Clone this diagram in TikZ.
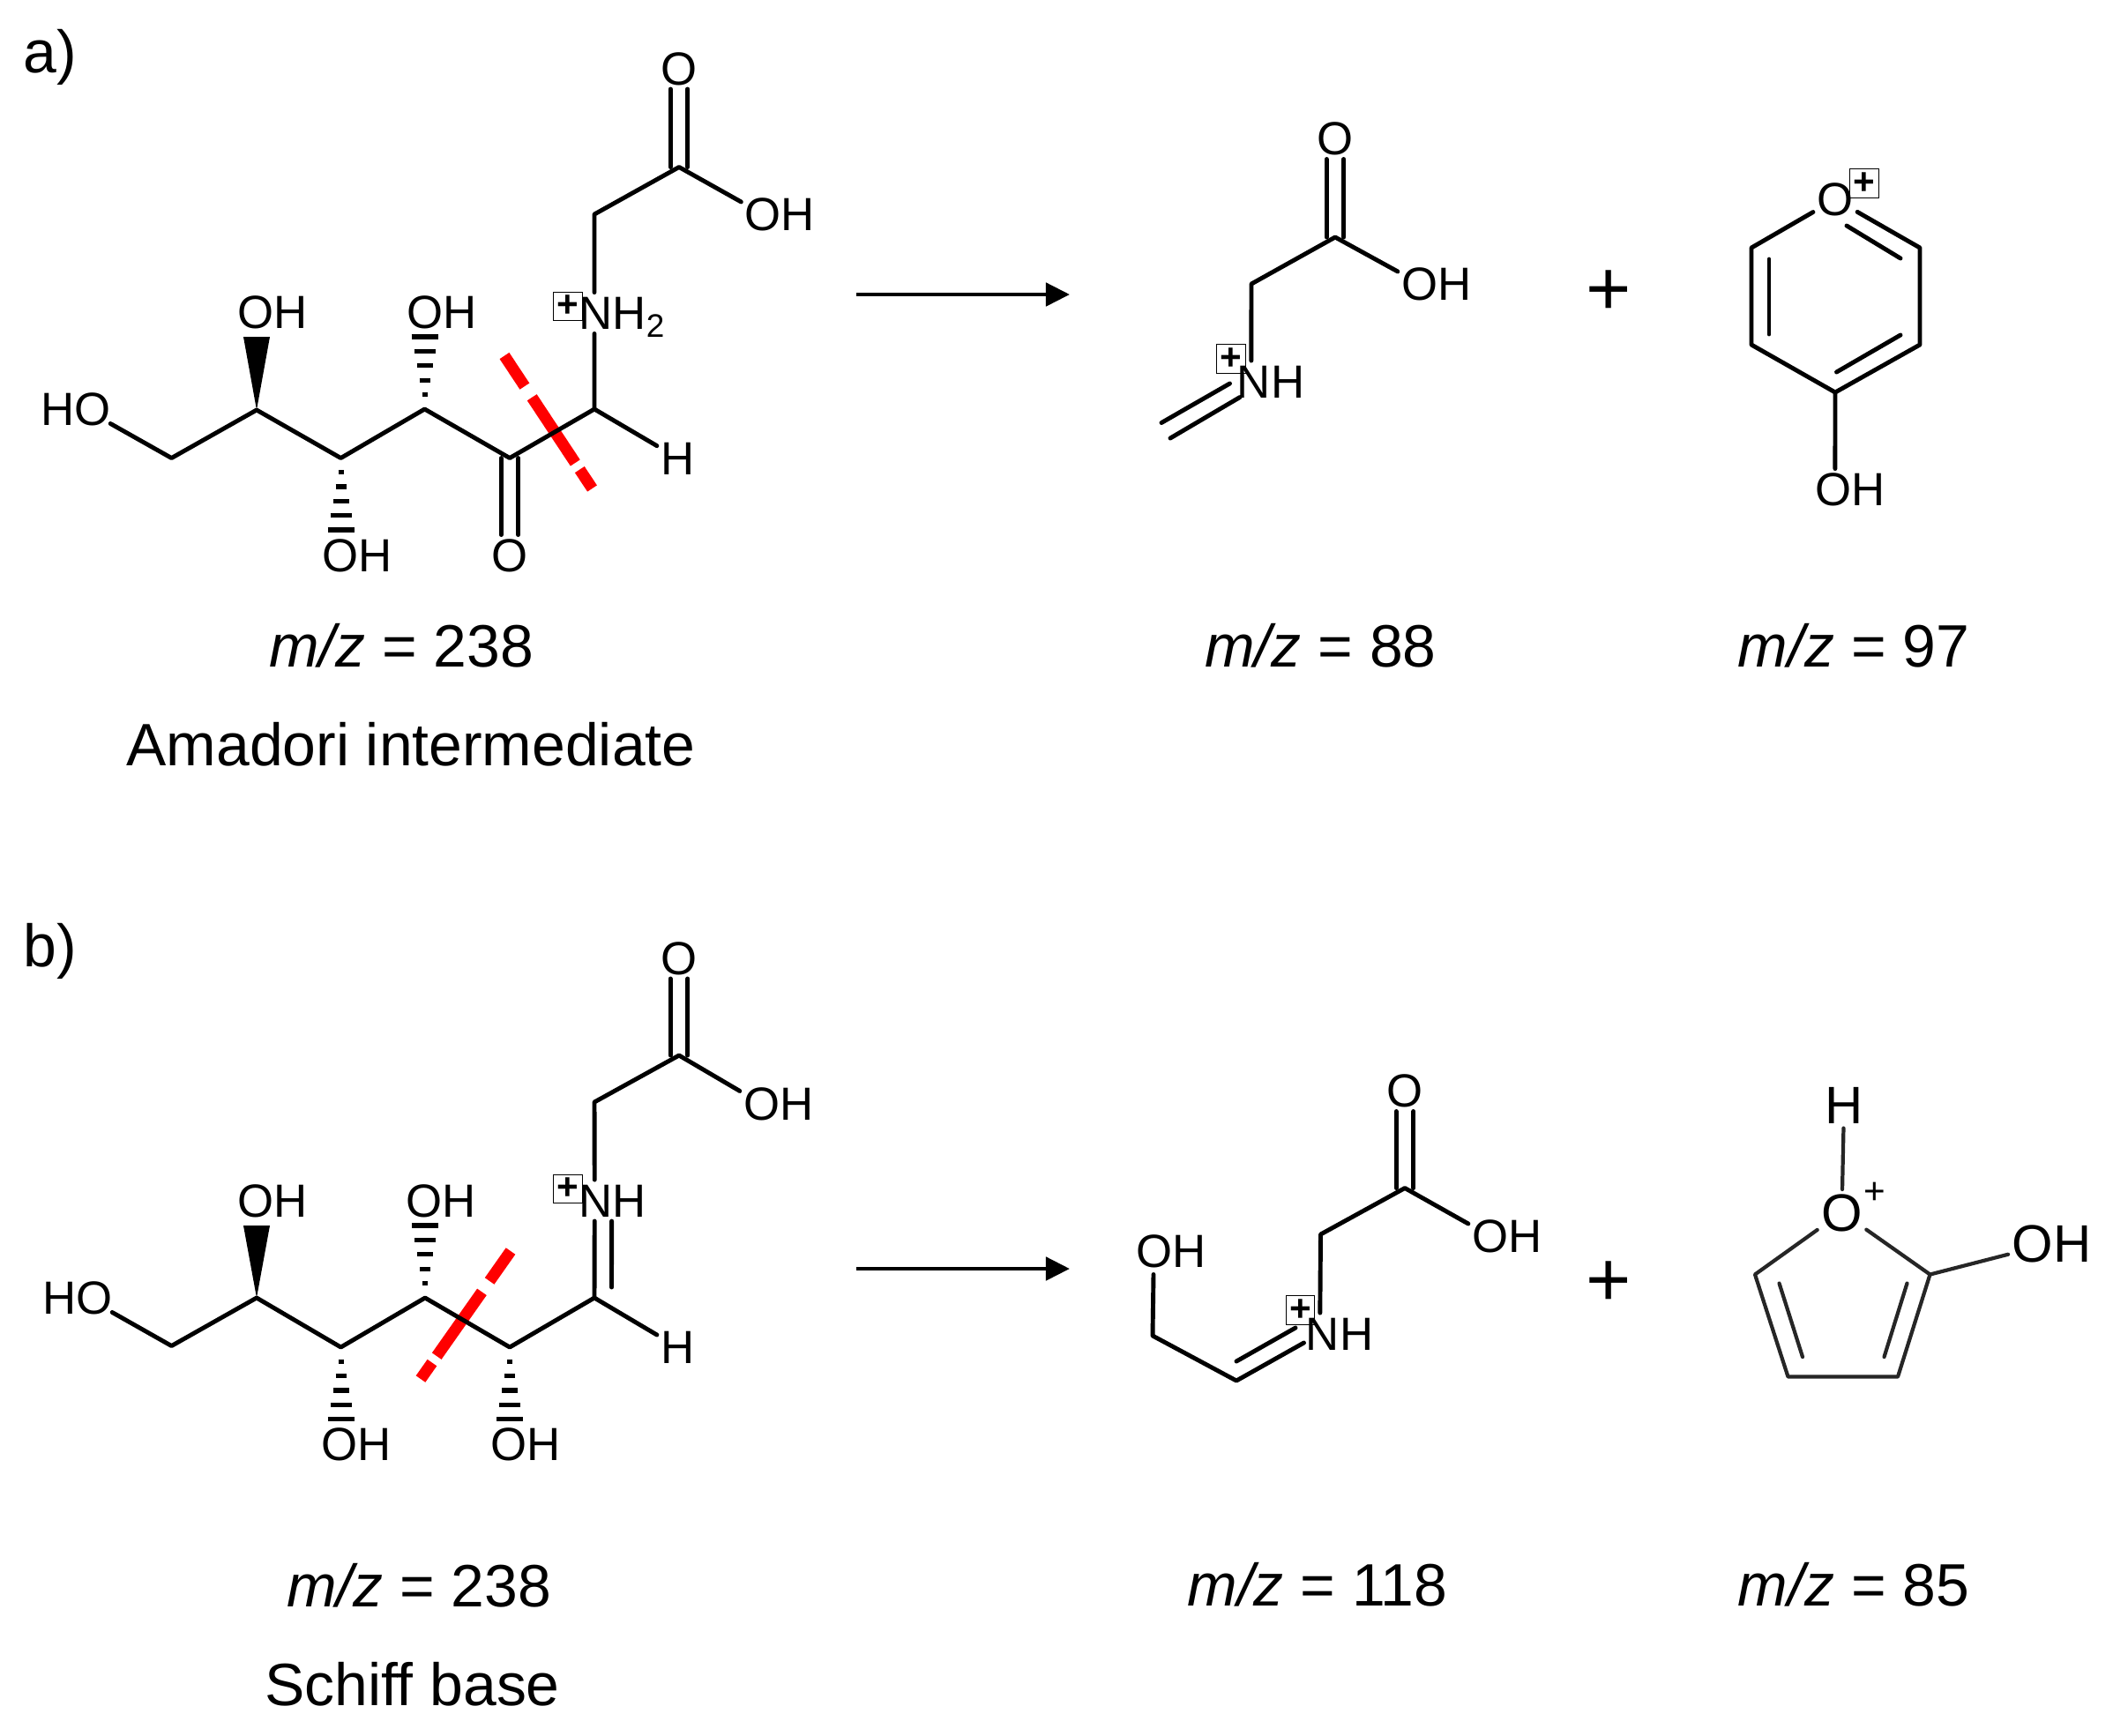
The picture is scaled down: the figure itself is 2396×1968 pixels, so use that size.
\documentclass[tikz,border=0pt]{standalone}
\usepackage{fontspec}
\setmainfont{Liberation Sans}
\usetikzlibrary{calc,arrows.meta}

\tikzset{
  atom/.style={inner sep=1.1pt, text height=10.75pt, text depth=0pt, font=\fontsize{15}{18}\selectfont},
  bigatom/.style={atom, text height=12.2pt, font=\fontsize{17}{20}\selectfont},
  label/.style={inner sep=0pt, text height=13.8pt, text depth=0pt, font=\fontsize{19.3}{23}\selectfont},
  plusbox/.style={rectangle, draw=black, line width=0.3pt, fill=white, minimum width=9.2pt, minimum height=9.2pt, inner sep=0pt, font=\fontsize{12}{12}\selectfont\bfseries},
  plussign/.style={inner sep=0pt, font=\fontsize{25}{25}\selectfont},
  bond/.style={line width=1.4pt, line cap=round, line join=round},
  thinbond/.style={line width=1.2pt, line cap=round, line join=round, black!85},
  cut/.style={red, line width=3.7pt, dash pattern=on 11.8pt off 4.3pt on 25.3pt off 2.6pt on 7.7pt off 20pt},
  reaction/.style={line width=1.4pt, -{Triangle[length=7.7pt, width=7.4pt]}}
}
\newcommand{\wedgebond}[2]{\fill (#1) -- ($(#2)+(-15,0)$) -- ($(#2)+(15,0)$) -- cycle;}
\newcommand{\hashbond}[2]{\foreach \t in {0.2,0.4,0.6,0.8,1} {\draw[line width=1.5pt] ($(#1)!\t!(#2)+(-15*\t,0)$) -- ($(#1)!\t!(#2)+(15*\t,0)$);}}

\begin{document}
\begin{tikzpicture}[x=0.01cm, y=-0.01cm]
\useasboundingbox (0,0) rectangle (2396,1968);

\node(tagA) [label] at (57,58) {a)};
\node(tagB) [label] at (57,1072) {b)};

\coordinate (cutA1) at (572,403.5);
\coordinate (cutA2) at (671.5,554);
\coordinate (cutB1) at (579,1419);
\coordinate (cutB2) at (477,1564);
\draw[cut] (cutA1) -- (cutA2);
\draw[cut] (cutB1) -- (cutB2);

\node(boxA) [plusbox] at (644,347.5) {+};
\node(boxB) [plusbox] at (644,1348.5) {+};
\node(boxC) [plusbox] at (1396,407) {+};
\node(boxD) [plusbox] at (2114,208) {+};
\node(boxE) [plusbox] at (1474.5,1486) {+};

\coordinate (a1) at (194.5,519.5);
\coordinate (a2) at (291,465);
\coordinate (a3) at (386.5,519.5);
\coordinate (a4) at (481.5,464);
\coordinate (a5) at (578,519.5);
\coordinate (a6) at (674,464);
\coordinate (a7) at (674,243);
\coordinate (a8) at (770,189.5);
\coordinate (a2up) at (291,382);
\coordinate (a4up) at (481.5,382);
\coordinate (a3dn) at (386.5,601);
\node(aHO) [atom] at (86,464) {HO};
\node(aOH2) [atom] at (309,354) {OH};
\node(aOH4) [atom] at (501,354) {OH};
\node(aOH3) [atom] at (405.5,630) {OH};
\node(aO5) [atom] at (578,630) {O};
\node(aH) [atom] at (768.5,519.5) {H};
\node(aN) [atom] at (706,355) {NH\textsubscript{2}};
\node(aO8) [atom] at (770,77.5) {O};
\node(aOH8) [atom] at (884.5,243) {OH};

\draw[bond] ([xshift=-1.4pt,yshift=2pt]aHO.south east) -- (a1) -- (a2) -- (a3) -- (a4) -- (a5) -- (a6) -- (aH);
\draw[bond] (a6) -- ([xshift=-9.1pt]aN.south);
\draw[bond] ([xshift=-9.1pt]aN.north) -- (a7) -- (a8) -- ([yshift=4pt]aOH8.west);
\draw[bond] ([xshift=-2.8pt]a5) -- ([xshift=-2.8pt]aO5.north);
\draw[bond] ([xshift=2.8pt]a5) -- ([xshift=2.8pt]aO5.north);
\draw[bond] ([xshift=-2.8pt]a8) -- ([xshift=-2.8pt]aO8.south);
\draw[bond] ([xshift=2.8pt]a8) -- ([xshift=2.8pt]aO8.south);
\wedgebond{a2}{a2up}
\hashbond{a4}{a4up}
\hashbond{a3}{a3dn}

\coordinate (b1) at (194.5,1526.5);
\coordinate (b2) at (291,1472);
\coordinate (b3) at (386.5,1528);
\coordinate (b4) at (482,1472);
\coordinate (b5) at (578,1528);
\coordinate (b6) at (674,1472);
\coordinate (b6i) at (693.5,1460);
\coordinate (b7) at (674,1250);
\coordinate (b8) at (770,1197);
\coordinate (b2up) at (291,1390);
\coordinate (b4up) at (482,1390);
\coordinate (b3dn) at (386.5,1609.5);
\coordinate (b5dn) at (578,1609.5);
\node(bHO) [atom] at (88,1472) {HO};
\node(bOH2) [atom] at (309,1361.5) {OH};
\node(bOH4) [atom] at (500.5,1361.5) {OH};
\node(bOH3) [atom] at (404,1638) {OH};
\node(bOH5) [atom] at (596,1638) {OH};
\node(bH) [atom] at (768.5,1528) {H};
\node(bN) [atom] at (695,1361.5) {NH};
\node(bO8) [atom] at (770,1086.5) {O};
\node(bOH8) [atom] at (883,1251.5) {OH};

\draw[bond] ([xshift=-1.4pt,yshift=2pt]bHO.south east) -- (b1) -- (b2) -- (b3) -- (b4) -- (b5) -- (b6) -- (bH);
\draw[bond] (b6) -- ([xshift=-5.9pt]bN.south);
\draw[bond] (b6i) -- ([xshift=-0.4pt]bN.south);
\draw[bond] ([xshift=-5.9pt]bN.north) -- (b7) -- (b8) -- ([yshift=4pt]bOH8.west);
\draw[bond] ([xshift=-2.8pt]b8) -- ([xshift=-2.8pt]bO8.south);
\draw[bond] ([xshift=2.8pt]b8) -- ([xshift=2.8pt]bO8.south);
\wedgebond{b2}{b2up}
\hashbond{b4}{b4up}
\hashbond{b3}{b3dn}
\hashbond{b5}{b5dn}

\coordinate (arrA1) at (971,334);
\coordinate (arrA2) at (1213,334);
\coordinate (arrB1) at (971,1439);
\coordinate (arrB2) at (1213,1439);
\draw[reaction] (arrA1) -- (arrA2);
\draw[reaction] (arrB1) -- (arrB2);

\node(plusA) [plussign] at (1824,332) {+};
\node(plusB) [plussign] at (1824,1456) {+};

\coordinate (c1) at (1419,322);
\coordinate (c2) at (1514,269);
\coordinate (c3a) at (1327,497);
\coordinate (c3b) at (1317,479.5);
\coordinate (c4a) at (1406,450.5);
\coordinate (c4b) at (1394.5,435);
\node(cN) [atom] at (1441,432.5) {NH};
\node(cO) [atom] at (1514,157) {O};
\node(cOH) [atom] at (1629,322) {OH};
\draw[bond] ([xshift=-6.3pt]cN.north) -- (c1) -- (c2) -- ([yshift=4pt]cOH.west);
\draw[bond] ([xshift=-2.8pt]c2) -- ([xshift=-2.8pt]cO.south);
\draw[bond] ([xshift=2.8pt]c2) -- ([xshift=2.8pt]cO.south);
\draw[bond] (c3a) -- (c4a);
\draw[bond] (c3b) -- (c4b);

\coordinate (d1) at (1986,281);
\coordinate (d2) at (1986,391);
\coordinate (d3) at (2081,445);
\coordinate (d4) at (2177,391);
\coordinate (d5) at (2177,281);
\coordinate (d1i) at (2006,294);
\coordinate (d2i) at (2006,379);
\coordinate (d3i) at (2082.5,422);
\coordinate (d4i) at (2155,380);
\coordinate (d5i) at (2155,293);
\coordinate (d6i) at (2094,256);
\node(dO) [atom] at (2081,226) {O};
\node(dOH) [atom] at (2098.5,555) {OH};
\draw[bond] (dO) -- (d1) -- (d2) -- (d3) -- (d4) -- (d5) -- (dO);
\draw[bond] (d3) -- ([xshift=-5pt]dOH.north);
\draw[bond] (d1i) -- (d2i);
\draw[bond] (d3i) -- (d4i);
\draw[bond] (d5i) -- (d6i);

\coordinate (e1) at (1308,1445.5);
\coordinate (e2) at (1307,1515);
\coordinate (e3) at (1402,1566);
\coordinate (e4) at (1478.5,1523);
\coordinate (e3i) at (1402,1544);
\coordinate (e4i) at (1469,1506);
\coordinate (e5) at (1497.5,1400);
\coordinate (e6) at (1593,1347.5);
\node(eOH1) [atom] at (1328,1419) {OH};
\node(eN) [atom] at (1519,1512.5) {NH};
\node(eO) [atom] at (1593,1237) {O};
\node(eOH2) [atom] at (1709,1402) {OH};
\draw[bond] (e1) -- (e2) -- (e3) -- (e4);
\draw[bond] (e3i) -- (e4i);
\draw[bond] ([xshift=-6.3pt]eN.north) -- (e5) -- (e6) -- ([yshift=4pt]eOH2.west);
\draw[bond] ([xshift=-2.8pt]e6) -- ([xshift=-2.8pt]eO.south);
\draw[bond] ([xshift=2.8pt]e6) -- ([xshift=2.8pt]eO.south);

\coordinate (f1) at (1990,1445.5);
\coordinate (f2) at (2027.5,1561.5);
\coordinate (f3) at (2152,1561.5);
\coordinate (f4) at (2188.5,1445.5);
\coordinate (f1i) at (2017.5,1455.5);
\coordinate (f2i) at (2044,1539);
\coordinate (f3i) at (2136.5,1539);
\coordinate (f4i) at (2162.5,1455.5);
\node(fO) [bigatom] at (2088.5,1375) {O};
\node(fH) [bigatom] at (2091,1253.5) {H};
\node(fOH) [bigatom] at (2326.5,1410) {OH};
\node(fP) [inner sep=0pt, font=\fontsize{12}{12}\selectfont] at (2126,1353) {+};
\draw[thinbond] (fO) -- (f1) -- (f2) -- (f3) -- (f4) -- (fO);
\draw[thinbond] (fO) -- (fH);
\draw[thinbond] (f4) -- (fOH);
\draw[thinbond] (f1i) -- (f2i);
\draw[thinbond] (f3i) -- (f4i);

\node(mzA) [label] at (455,732) {\textit{m/z} = 238};
\node(nameA) [label] at (466,844) {Amadori intermediate};
\node(mzC) [label] at (1497.5,732) {\textit{m/z} = 88};
\node(mzD) [label] at (2102,732) {\textit{m/z} = 97};
\node(mzB) [label] at (475,1798) {\textit{m/z} = 238};
\node(nameB) [label] at (467.5,1910) {Schiff base};
\node(mzE) [label] at (1494,1797) {\textit{m/z} = 118};
\node(mzF) [label] at (2102,1797) {\textit{m/z} = 85};

\end{tikzpicture}
\end{document}
